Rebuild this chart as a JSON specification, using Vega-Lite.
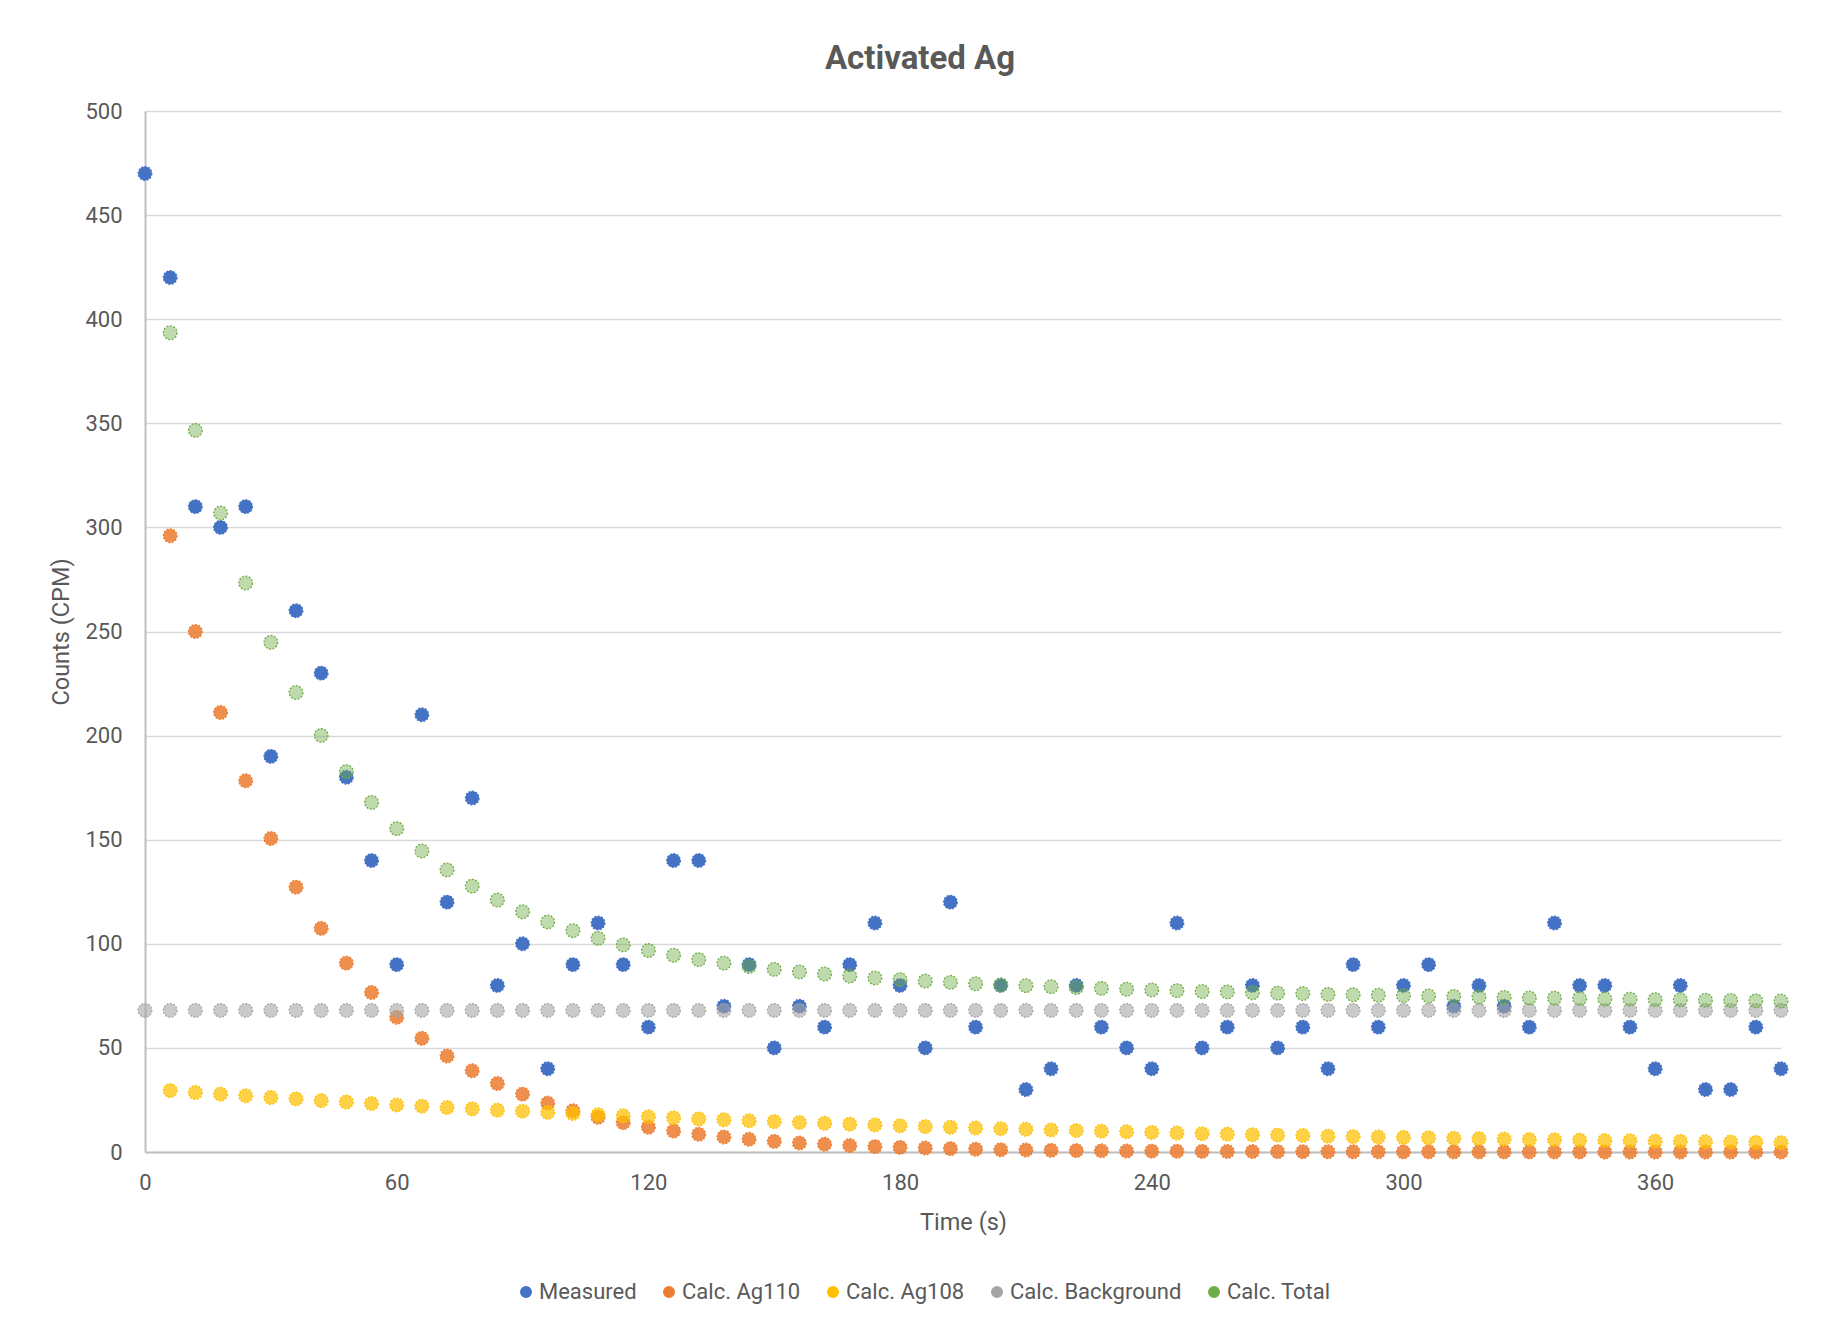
{
  "$schema": "https://vega.github.io/schema/vega-lite/v6.json",
  "autosize": "none",
  "width": 1636,
  "height": 1041,
  "padding": {"left": 145, "top": 111, "right": 60, "bottom": 189},
  "background": "white",
  "title": {
    "text": "Activated Ag",
    "font": "Roboto",
    "fontSize": 33,
    "fontWeight": "bold",
    "color": "#595959",
    "anchor": "middle",
    "baseline": "alphabetic",
    "dx": -43,
    "offset": -2
  },
  "config": {
    "view": {"stroke": null},
    "font": "Roboto",
    "axis": {
      "labelFont": "Roboto",
      "titleFont": "Roboto",
      "labelColor": "#595959",
      "titleColor": "#595959",
      "labelFontSize": 22,
      "titleFontSize": 23.5,
      "titleFontWeight": "normal",
      "ticks": false,
      "tickSize": 0,
      "labelFlush": false,
      "domainColor": "#BFBFBF",
      "domainWidth": 2,
      "gridColor": "#D9D9D9",
      "gridWidth": 1.3
    },
    "legend": {
      "labelFont": "Roboto",
      "labelFontSize": 22,
      "labelColor": "#595959",
      "labelLimit": 0
    }
  },
  "data": {
    "values": [
      {"time": 0, "series": "Measured", "cpm": 470},
      {"time": 6, "series": "Measured", "cpm": 420},
      {"time": 12, "series": "Measured", "cpm": 310},
      {"time": 18, "series": "Measured", "cpm": 300},
      {"time": 24, "series": "Measured", "cpm": 310},
      {"time": 30, "series": "Measured", "cpm": 190},
      {"time": 36, "series": "Measured", "cpm": 260},
      {"time": 42, "series": "Measured", "cpm": 230},
      {"time": 48, "series": "Measured", "cpm": 180},
      {"time": 54, "series": "Measured", "cpm": 140},
      {"time": 60, "series": "Measured", "cpm": 90},
      {"time": 66, "series": "Measured", "cpm": 210},
      {"time": 72, "series": "Measured", "cpm": 120},
      {"time": 78, "series": "Measured", "cpm": 170},
      {"time": 84, "series": "Measured", "cpm": 80},
      {"time": 90, "series": "Measured", "cpm": 100},
      {"time": 96, "series": "Measured", "cpm": 40},
      {"time": 102, "series": "Measured", "cpm": 90},
      {"time": 108, "series": "Measured", "cpm": 110},
      {"time": 114, "series": "Measured", "cpm": 90},
      {"time": 120, "series": "Measured", "cpm": 60},
      {"time": 126, "series": "Measured", "cpm": 140},
      {"time": 132, "series": "Measured", "cpm": 140},
      {"time": 138, "series": "Measured", "cpm": 70},
      {"time": 144, "series": "Measured", "cpm": 90},
      {"time": 150, "series": "Measured", "cpm": 50},
      {"time": 156, "series": "Measured", "cpm": 70},
      {"time": 162, "series": "Measured", "cpm": 60},
      {"time": 168, "series": "Measured", "cpm": 90},
      {"time": 174, "series": "Measured", "cpm": 110},
      {"time": 180, "series": "Measured", "cpm": 80},
      {"time": 186, "series": "Measured", "cpm": 50},
      {"time": 192, "series": "Measured", "cpm": 120},
      {"time": 198, "series": "Measured", "cpm": 60},
      {"time": 204, "series": "Measured", "cpm": 80},
      {"time": 210, "series": "Measured", "cpm": 30},
      {"time": 216, "series": "Measured", "cpm": 40},
      {"time": 222, "series": "Measured", "cpm": 80},
      {"time": 228, "series": "Measured", "cpm": 60},
      {"time": 234, "series": "Measured", "cpm": 50},
      {"time": 240, "series": "Measured", "cpm": 40},
      {"time": 246, "series": "Measured", "cpm": 110},
      {"time": 252, "series": "Measured", "cpm": 50},
      {"time": 258, "series": "Measured", "cpm": 60},
      {"time": 264, "series": "Measured", "cpm": 80},
      {"time": 270, "series": "Measured", "cpm": 50},
      {"time": 276, "series": "Measured", "cpm": 60},
      {"time": 282, "series": "Measured", "cpm": 40},
      {"time": 288, "series": "Measured", "cpm": 90},
      {"time": 294, "series": "Measured", "cpm": 60},
      {"time": 300, "series": "Measured", "cpm": 80},
      {"time": 306, "series": "Measured", "cpm": 90},
      {"time": 312, "series": "Measured", "cpm": 70},
      {"time": 318, "series": "Measured", "cpm": 80},
      {"time": 324, "series": "Measured", "cpm": 70},
      {"time": 330, "series": "Measured", "cpm": 60},
      {"time": 336, "series": "Measured", "cpm": 110},
      {"time": 342, "series": "Measured", "cpm": 80},
      {"time": 348, "series": "Measured", "cpm": 80},
      {"time": 354, "series": "Measured", "cpm": 60},
      {"time": 360, "series": "Measured", "cpm": 40},
      {"time": 366, "series": "Measured", "cpm": 80},
      {"time": 372, "series": "Measured", "cpm": 30},
      {"time": 378, "series": "Measured", "cpm": 30},
      {"time": 384, "series": "Measured", "cpm": 60},
      {"time": 390, "series": "Measured", "cpm": 40},

      {"time": 6, "series": "Calc. Ag110", "cpm": 296},
      {"time": 12, "series": "Calc. Ag110", "cpm": 250},
      {"time": 18, "series": "Calc. Ag110", "cpm": 211.1},
      {"time": 24, "series": "Calc. Ag110", "cpm": 178.3},
      {"time": 30, "series": "Calc. Ag110", "cpm": 150.6},
      {"time": 36, "series": "Calc. Ag110", "cpm": 127.2},
      {"time": 42, "series": "Calc. Ag110", "cpm": 107.4},
      {"time": 48, "series": "Calc. Ag110", "cpm": 90.7},
      {"time": 54, "series": "Calc. Ag110", "cpm": 76.6},
      {"time": 60, "series": "Calc. Ag110", "cpm": 64.7},
      {"time": 66, "series": "Calc. Ag110", "cpm": 54.6},
      {"time": 72, "series": "Calc. Ag110", "cpm": 46.1},
      {"time": 78, "series": "Calc. Ag110", "cpm": 39},
      {"time": 84, "series": "Calc. Ag110", "cpm": 32.9},
      {"time": 90, "series": "Calc. Ag110", "cpm": 27.8},
      {"time": 96, "series": "Calc. Ag110", "cpm": 23.5},
      {"time": 102, "series": "Calc. Ag110", "cpm": 19.8},
      {"time": 108, "series": "Calc. Ag110", "cpm": 16.7},
      {"time": 114, "series": "Calc. Ag110", "cpm": 14.1},
      {"time": 120, "series": "Calc. Ag110", "cpm": 11.9},
      {"time": 126, "series": "Calc. Ag110", "cpm": 10.1},
      {"time": 132, "series": "Calc. Ag110", "cpm": 8.5},
      {"time": 138, "series": "Calc. Ag110", "cpm": 7.2},
      {"time": 144, "series": "Calc. Ag110", "cpm": 6.1},
      {"time": 150, "series": "Calc. Ag110", "cpm": 5.1},
      {"time": 156, "series": "Calc. Ag110", "cpm": 4.3},
      {"time": 162, "series": "Calc. Ag110", "cpm": 3.7},
      {"time": 168, "series": "Calc. Ag110", "cpm": 3.1},
      {"time": 174, "series": "Calc. Ag110", "cpm": 2.6},
      {"time": 180, "series": "Calc. Ag110", "cpm": 2.2},
      {"time": 186, "series": "Calc. Ag110", "cpm": 1.9},
      {"time": 192, "series": "Calc. Ag110", "cpm": 1.6},
      {"time": 198, "series": "Calc. Ag110", "cpm": 1.3},
      {"time": 204, "series": "Calc. Ag110", "cpm": 1.1},
      {"time": 210, "series": "Calc. Ag110", "cpm": 0.95},
      {"time": 216, "series": "Calc. Ag110", "cpm": 0.8},
      {"time": 222, "series": "Calc. Ag110", "cpm": 0.68},
      {"time": 228, "series": "Calc. Ag110", "cpm": 0.57},
      {"time": 234, "series": "Calc. Ag110", "cpm": 0.48},
      {"time": 240, "series": "Calc. Ag110", "cpm": 0.41},
      {"time": 246, "series": "Calc. Ag110", "cpm": 0.35},
      {"time": 252, "series": "Calc. Ag110", "cpm": 0.29},
      {"time": 258, "series": "Calc. Ag110", "cpm": 0.25},
      {"time": 264, "series": "Calc. Ag110", "cpm": 0.21},
      {"time": 270, "series": "Calc. Ag110", "cpm": 0.18},
      {"time": 276, "series": "Calc. Ag110", "cpm": 0.15},
      {"time": 282, "series": "Calc. Ag110", "cpm": 0.13},
      {"time": 288, "series": "Calc. Ag110", "cpm": 0.11},
      {"time": 294, "series": "Calc. Ag110", "cpm": 0.09},
      {"time": 300, "series": "Calc. Ag110", "cpm": 0.08},
      {"time": 306, "series": "Calc. Ag110", "cpm": 0.07},
      {"time": 312, "series": "Calc. Ag110", "cpm": 0.06},
      {"time": 318, "series": "Calc. Ag110", "cpm": 0.05},
      {"time": 324, "series": "Calc. Ag110", "cpm": 0.04},
      {"time": 330, "series": "Calc. Ag110", "cpm": 0.035},
      {"time": 336, "series": "Calc. Ag110", "cpm": 0.03},
      {"time": 342, "series": "Calc. Ag110", "cpm": 0.025},
      {"time": 348, "series": "Calc. Ag110", "cpm": 0.02},
      {"time": 354, "series": "Calc. Ag110", "cpm": 0.018},
      {"time": 360, "series": "Calc. Ag110", "cpm": 0.015},
      {"time": 366, "series": "Calc. Ag110", "cpm": 0.013},
      {"time": 372, "series": "Calc. Ag110", "cpm": 0.011},
      {"time": 378, "series": "Calc. Ag110", "cpm": 0.009},
      {"time": 384, "series": "Calc. Ag110", "cpm": 0.008},
      {"time": 390, "series": "Calc. Ag110", "cpm": 0.007},

      {"time": 6, "series": "Calc. Ag108", "cpm": 29.5},
      {"time": 12, "series": "Calc. Ag108", "cpm": 28.6},
      {"time": 18, "series": "Calc. Ag108", "cpm": 27.8},
      {"time": 24, "series": "Calc. Ag108", "cpm": 27.0},
      {"time": 30, "series": "Calc. Ag108", "cpm": 26.2},
      {"time": 36, "series": "Calc. Ag108", "cpm": 25.5},
      {"time": 42, "series": "Calc. Ag108", "cpm": 24.7},
      {"time": 48, "series": "Calc. Ag108", "cpm": 24.0},
      {"time": 54, "series": "Calc. Ag108", "cpm": 23.3},
      {"time": 60, "series": "Calc. Ag108", "cpm": 22.6},
      {"time": 66, "series": "Calc. Ag108", "cpm": 22.0},
      {"time": 72, "series": "Calc. Ag108", "cpm": 21.4},
      {"time": 78, "series": "Calc. Ag108", "cpm": 20.7},
      {"time": 84, "series": "Calc. Ag108", "cpm": 20.1},
      {"time": 90, "series": "Calc. Ag108", "cpm": 19.6},
      {"time": 96, "series": "Calc. Ag108", "cpm": 19.0},
      {"time": 102, "series": "Calc. Ag108", "cpm": 18.5},
      {"time": 108, "series": "Calc. Ag108", "cpm": 17.9},
      {"time": 114, "series": "Calc. Ag108", "cpm": 17.4},
      {"time": 120, "series": "Calc. Ag108", "cpm": 16.9},
      {"time": 126, "series": "Calc. Ag108", "cpm": 16.4},
      {"time": 132, "series": "Calc. Ag108", "cpm": 15.9},
      {"time": 138, "series": "Calc. Ag108", "cpm": 15.5},
      {"time": 144, "series": "Calc. Ag108", "cpm": 15.0},
      {"time": 150, "series": "Calc. Ag108", "cpm": 14.6},
      {"time": 156, "series": "Calc. Ag108", "cpm": 14.2},
      {"time": 162, "series": "Calc. Ag108", "cpm": 13.8},
      {"time": 168, "series": "Calc. Ag108", "cpm": 13.4},
      {"time": 174, "series": "Calc. Ag108", "cpm": 13.0},
      {"time": 180, "series": "Calc. Ag108", "cpm": 12.6},
      {"time": 186, "series": "Calc. Ag108", "cpm": 12.2},
      {"time": 192, "series": "Calc. Ag108", "cpm": 11.9},
      {"time": 198, "series": "Calc. Ag108", "cpm": 11.5},
      {"time": 204, "series": "Calc. Ag108", "cpm": 11.2},
      {"time": 210, "series": "Calc. Ag108", "cpm": 10.9},
      {"time": 216, "series": "Calc. Ag108", "cpm": 10.6},
      {"time": 222, "series": "Calc. Ag108", "cpm": 10.3},
      {"time": 228, "series": "Calc. Ag108", "cpm": 10.0},
      {"time": 234, "series": "Calc. Ag108", "cpm": 9.7},
      {"time": 240, "series": "Calc. Ag108", "cpm": 9.4},
      {"time": 246, "series": "Calc. Ag108", "cpm": 9.1},
      {"time": 252, "series": "Calc. Ag108", "cpm": 8.8},
      {"time": 258, "series": "Calc. Ag108", "cpm": 8.6},
      {"time": 264, "series": "Calc. Ag108", "cpm": 8.3},
      {"time": 270, "series": "Calc. Ag108", "cpm": 8.1},
      {"time": 276, "series": "Calc. Ag108", "cpm": 7.9},
      {"time": 282, "series": "Calc. Ag108", "cpm": 7.6},
      {"time": 288, "series": "Calc. Ag108", "cpm": 7.4},
      {"time": 294, "series": "Calc. Ag108", "cpm": 7.2},
      {"time": 300, "series": "Calc. Ag108", "cpm": 7.0},
      {"time": 306, "series": "Calc. Ag108", "cpm": 6.8},
      {"time": 312, "series": "Calc. Ag108", "cpm": 6.6},
      {"time": 318, "series": "Calc. Ag108", "cpm": 6.4},
      {"time": 324, "series": "Calc. Ag108", "cpm": 6.2},
      {"time": 330, "series": "Calc. Ag108", "cpm": 6.0},
      {"time": 336, "series": "Calc. Ag108", "cpm": 5.9},
      {"time": 342, "series": "Calc. Ag108", "cpm": 5.7},
      {"time": 348, "series": "Calc. Ag108", "cpm": 5.5},
      {"time": 354, "series": "Calc. Ag108", "cpm": 5.4},
      {"time": 360, "series": "Calc. Ag108", "cpm": 5.2},
      {"time": 366, "series": "Calc. Ag108", "cpm": 5.1},
      {"time": 372, "series": "Calc. Ag108", "cpm": 4.9},
      {"time": 378, "series": "Calc. Ag108", "cpm": 4.8},
      {"time": 384, "series": "Calc. Ag108", "cpm": 4.6},
      {"time": 390, "series": "Calc. Ag108", "cpm": 4.5},

      {"time": 0, "series": "Calc. Background", "cpm": 68},
      {"time": 6, "series": "Calc. Background", "cpm": 68},
      {"time": 12, "series": "Calc. Background", "cpm": 68},
      {"time": 18, "series": "Calc. Background", "cpm": 68},
      {"time": 24, "series": "Calc. Background", "cpm": 68},
      {"time": 30, "series": "Calc. Background", "cpm": 68},
      {"time": 36, "series": "Calc. Background", "cpm": 68},
      {"time": 42, "series": "Calc. Background", "cpm": 68},
      {"time": 48, "series": "Calc. Background", "cpm": 68},
      {"time": 54, "series": "Calc. Background", "cpm": 68},
      {"time": 60, "series": "Calc. Background", "cpm": 68},
      {"time": 66, "series": "Calc. Background", "cpm": 68},
      {"time": 72, "series": "Calc. Background", "cpm": 68},
      {"time": 78, "series": "Calc. Background", "cpm": 68},
      {"time": 84, "series": "Calc. Background", "cpm": 68},
      {"time": 90, "series": "Calc. Background", "cpm": 68},
      {"time": 96, "series": "Calc. Background", "cpm": 68},
      {"time": 102, "series": "Calc. Background", "cpm": 68},
      {"time": 108, "series": "Calc. Background", "cpm": 68},
      {"time": 114, "series": "Calc. Background", "cpm": 68},
      {"time": 120, "series": "Calc. Background", "cpm": 68},
      {"time": 126, "series": "Calc. Background", "cpm": 68},
      {"time": 132, "series": "Calc. Background", "cpm": 68},
      {"time": 138, "series": "Calc. Background", "cpm": 68},
      {"time": 144, "series": "Calc. Background", "cpm": 68},
      {"time": 150, "series": "Calc. Background", "cpm": 68},
      {"time": 156, "series": "Calc. Background", "cpm": 68},
      {"time": 162, "series": "Calc. Background", "cpm": 68},
      {"time": 168, "series": "Calc. Background", "cpm": 68},
      {"time": 174, "series": "Calc. Background", "cpm": 68},
      {"time": 180, "series": "Calc. Background", "cpm": 68},
      {"time": 186, "series": "Calc. Background", "cpm": 68},
      {"time": 192, "series": "Calc. Background", "cpm": 68},
      {"time": 198, "series": "Calc. Background", "cpm": 68},
      {"time": 204, "series": "Calc. Background", "cpm": 68},
      {"time": 210, "series": "Calc. Background", "cpm": 68},
      {"time": 216, "series": "Calc. Background", "cpm": 68},
      {"time": 222, "series": "Calc. Background", "cpm": 68},
      {"time": 228, "series": "Calc. Background", "cpm": 68},
      {"time": 234, "series": "Calc. Background", "cpm": 68},
      {"time": 240, "series": "Calc. Background", "cpm": 68},
      {"time": 246, "series": "Calc. Background", "cpm": 68},
      {"time": 252, "series": "Calc. Background", "cpm": 68},
      {"time": 258, "series": "Calc. Background", "cpm": 68},
      {"time": 264, "series": "Calc. Background", "cpm": 68},
      {"time": 270, "series": "Calc. Background", "cpm": 68},
      {"time": 276, "series": "Calc. Background", "cpm": 68},
      {"time": 282, "series": "Calc. Background", "cpm": 68},
      {"time": 288, "series": "Calc. Background", "cpm": 68},
      {"time": 294, "series": "Calc. Background", "cpm": 68},
      {"time": 300, "series": "Calc. Background", "cpm": 68},
      {"time": 306, "series": "Calc. Background", "cpm": 68},
      {"time": 312, "series": "Calc. Background", "cpm": 68},
      {"time": 318, "series": "Calc. Background", "cpm": 68},
      {"time": 324, "series": "Calc. Background", "cpm": 68},
      {"time": 330, "series": "Calc. Background", "cpm": 68},
      {"time": 336, "series": "Calc. Background", "cpm": 68},
      {"time": 342, "series": "Calc. Background", "cpm": 68},
      {"time": 348, "series": "Calc. Background", "cpm": 68},
      {"time": 354, "series": "Calc. Background", "cpm": 68},
      {"time": 360, "series": "Calc. Background", "cpm": 68},
      {"time": 366, "series": "Calc. Background", "cpm": 68},
      {"time": 372, "series": "Calc. Background", "cpm": 68},
      {"time": 378, "series": "Calc. Background", "cpm": 68},
      {"time": 384, "series": "Calc. Background", "cpm": 68},
      {"time": 390, "series": "Calc. Background", "cpm": 68},

      {"time": 6, "series": "Calc. Total", "cpm": 393.5},
      {"time": 12, "series": "Calc. Total", "cpm": 346.6},
      {"time": 18, "series": "Calc. Total", "cpm": 306.9},
      {"time": 24, "series": "Calc. Total", "cpm": 273.3},
      {"time": 30, "series": "Calc. Total", "cpm": 244.8},
      {"time": 36, "series": "Calc. Total", "cpm": 220.7},
      {"time": 42, "series": "Calc. Total", "cpm": 200.1},
      {"time": 48, "series": "Calc. Total", "cpm": 182.7},
      {"time": 54, "series": "Calc. Total", "cpm": 167.9},
      {"time": 60, "series": "Calc. Total", "cpm": 155.3},
      {"time": 66, "series": "Calc. Total", "cpm": 144.6},
      {"time": 72, "series": "Calc. Total", "cpm": 135.5},
      {"time": 78, "series": "Calc. Total", "cpm": 127.7},
      {"time": 84, "series": "Calc. Total", "cpm": 121.0},
      {"time": 90, "series": "Calc. Total", "cpm": 115.4},
      {"time": 96, "series": "Calc. Total", "cpm": 110.5},
      {"time": 102, "series": "Calc. Total", "cpm": 106.3},
      {"time": 108, "series": "Calc. Total", "cpm": 102.6},
      {"time": 114, "series": "Calc. Total", "cpm": 99.5},
      {"time": 120, "series": "Calc. Total", "cpm": 96.8},
      {"time": 126, "series": "Calc. Total", "cpm": 94.5},
      {"time": 132, "series": "Calc. Total", "cpm": 92.4},
      {"time": 138, "series": "Calc. Total", "cpm": 90.7},
      {"time": 144, "series": "Calc. Total", "cpm": 89.1},
      {"time": 150, "series": "Calc. Total", "cpm": 87.7},
      {"time": 156, "series": "Calc. Total", "cpm": 86.5},
      {"time": 162, "series": "Calc. Total", "cpm": 85.5},
      {"time": 168, "series": "Calc. Total", "cpm": 84.5},
      {"time": 174, "series": "Calc. Total", "cpm": 83.6},
      {"time": 180, "series": "Calc. Total", "cpm": 82.8},
      {"time": 186, "series": "Calc. Total", "cpm": 82.1},
      {"time": 192, "series": "Calc. Total", "cpm": 81.5},
      {"time": 198, "series": "Calc. Total", "cpm": 80.8},
      {"time": 204, "series": "Calc. Total", "cpm": 80.3},
      {"time": 210, "series": "Calc. Total", "cpm": 79.9},
      {"time": 216, "series": "Calc. Total", "cpm": 79.4},
      {"time": 222, "series": "Calc. Total", "cpm": 79.0},
      {"time": 228, "series": "Calc. Total", "cpm": 78.6},
      {"time": 234, "series": "Calc. Total", "cpm": 78.2},
      {"time": 240, "series": "Calc. Total", "cpm": 77.8},
      {"time": 246, "series": "Calc. Total", "cpm": 77.5},
      {"time": 252, "series": "Calc. Total", "cpm": 77.1},
      {"time": 258, "series": "Calc. Total", "cpm": 76.9},
      {"time": 264, "series": "Calc. Total", "cpm": 76.5},
      {"time": 270, "series": "Calc. Total", "cpm": 76.3},
      {"time": 276, "series": "Calc. Total", "cpm": 76.1},
      {"time": 282, "series": "Calc. Total", "cpm": 75.7},
      {"time": 288, "series": "Calc. Total", "cpm": 75.5},
      {"time": 294, "series": "Calc. Total", "cpm": 75.3},
      {"time": 300, "series": "Calc. Total", "cpm": 75.1},
      {"time": 306, "series": "Calc. Total", "cpm": 74.9},
      {"time": 312, "series": "Calc. Total", "cpm": 74.7},
      {"time": 318, "series": "Calc. Total", "cpm": 74.5},
      {"time": 324, "series": "Calc. Total", "cpm": 74.2},
      {"time": 330, "series": "Calc. Total", "cpm": 74.0},
      {"time": 336, "series": "Calc. Total", "cpm": 73.9},
      {"time": 342, "series": "Calc. Total", "cpm": 73.7},
      {"time": 348, "series": "Calc. Total", "cpm": 73.5},
      {"time": 354, "series": "Calc. Total", "cpm": 73.4},
      {"time": 360, "series": "Calc. Total", "cpm": 73.2},
      {"time": 366, "series": "Calc. Total", "cpm": 73.1},
      {"time": 372, "series": "Calc. Total", "cpm": 72.9},
      {"time": 378, "series": "Calc. Total", "cpm": 72.8},
      {"time": 384, "series": "Calc. Total", "cpm": 72.6},
      {"time": 390, "series": "Calc. Total", "cpm": 72.5}
    ]
  },
  "mark": {
    "type": "point",
    "shape": "circle",
    "filled": true,
    "opacity": 1,
    "size": 185,
    "strokeWidth": 1.3,
    "strokeDash": [2, 1.5]
  },
  "encoding": {
    "x": {
      "field": "time",
      "type": "quantitative",
      "title": "Time (s)",
      "scale": {"domain": [0, 390], "nice": false, "zero": true},
      "axis": {
        "values": [0, 60, 120, 180, 240, 300, 360],
        "grid": false,
        "labelPadding": 20,
        "titlePadding": 17
      }
    },
    "y": {
      "field": "cpm",
      "type": "quantitative",
      "title": "Counts (CPM)",
      "scale": {"domain": [0, 500], "nice": false},
      "axis": {
        "values": [0, 50, 100, 150, 200, 250, 300, 350, 400, 450, 500],
        "grid": true,
        "labelPadding": 23,
        "titlePadding": 11
      }
    },
    "color": {
      "field": "series",
      "type": "nominal",
      "scale": {
        "domain": ["Measured", "Calc. Ag110", "Calc. Ag108", "Calc. Background", "Calc. Total"],
        "range": ["#4472C4", "#ED7D31", "#FFC000", "#A5A5A5", "#70AD47"]
      },
      "legend": {
        "title": null,
        "orient": "none",
        "direction": "horizontal",
        "legendX": 370,
        "legendY": 1170,
        "symbolSize": 110,
        "columnPadding": 21,
        "labelOffset": 2
      }
    },
    "stroke": {
      "field": "series",
      "type": "nominal",
      "scale": {
        "domain": ["Measured", "Calc. Ag110", "Calc. Ag108", "Calc. Background", "Calc. Total"],
        "range": ["#4472C4", "#ED7D31", "#FFC000", "#A5A5A5", "#70AD47"]
      },
      "legend": null
    },
    "fillOpacity": {
      "field": "series",
      "type": "nominal",
      "scale": {
        "domain": ["Measured", "Calc. Ag110", "Calc. Ag108", "Calc. Background", "Calc. Total"],
        "range": [1, 0.45, 0.45, 0.45, 0.45]
      },
      "legend": null
    }
  }
}
